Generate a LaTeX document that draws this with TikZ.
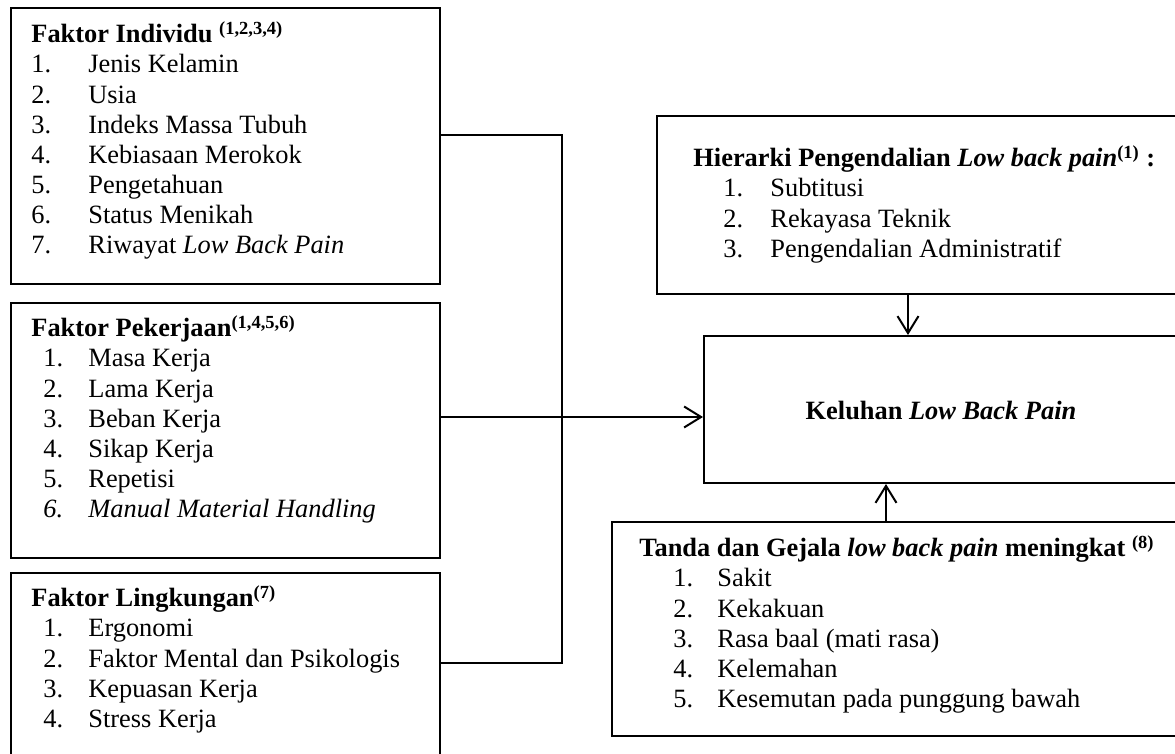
\documentclass[tikz,border=0pt]{standalone}
\usepackage{fontspec}
\setmainfont{Liberation Serif}
\usetikzlibrary{arrows.meta}
\tikzset{
  box/.style={draw, line width=1pt, rectangle, inner sep=0pt, anchor=north west},
  txt/.style={anchor=base west, inner sep=0pt, font=\fontsize{13.2}{15}\selectfont},
  conn/.style={line width=1pt},
  arr/.style={line width=1pt, -{Straight Barb[length=8.5pt,width=10.5pt,line width=1pt]}}
}
\newcommand{\refsup}[1]{\textsuperscript{\textbf{#1}}}
\begin{document}
\begin{tikzpicture}[x=0.5pt,y=-0.5pt]
\clip (0,0) rectangle (1175,754);
% boxes
\node[box, minimum width=214.5pt, minimum height=138pt] (b1) at (9.5,7) {};
\node[box, minimum width=214.5pt, minimum height=127.5pt] (b2) at (9.5,302) {};
\node[box, minimum width=214.5pt, minimum height=100pt] (b3) at (9.5,572) {};
\node[box, minimum width=261pt, minimum height=89pt] (hier) at (656,115) {};
\node[box, minimum width=237.5pt, minimum height=73.5pt] (kel) at (703,335) {};
\node[box, minimum width=283.5pt, minimum height=107pt] (tanda) at (611,521) {};
% box 1 text
\node[txt] (t1) at (31,43) {\textbf{Faktor Individu} \refsup{(1,2,3,4)}};
\foreach \n/\s [count=\i from 0] in {1/Jenis Kelamin,2/Usia,3/Indeks Massa Tubuh,4/Kebiasaan Merokok,5/Pengetahuan,6/Status Menikah}{
  \node[txt] (n1\n) at (31,73+30.2*\i) {\n.};
  \node[txt] (s1\n) at (88,73+30.2*\i) {\s};
}
\node[txt] (n17) at (31,254) {7.};
\node[txt] (s17) at (88,254) {Riwayat \textit{Low Back Pain}};
% box 2 text
\node[txt] (t2) at (31,337) {\textbf{Faktor Pekerjaan}\refsup{(1,4,5,6)}};
\foreach \n/\s [count=\i from 0] in {1/Masa Kerja,2/Lama Kerja,3/Beban Kerja,4/Sikap Kerja,5/Repetisi}{
  \node[txt] (n2\n) at (43,367+30.2*\i) {\n.};
  \node[txt] (s2\n) at (88,367+30.2*\i) {\s};
}
\node[txt] (n26) at (43,518) {\textit{6.}};
\node[txt] (s26) at (88,518) {\textit{Manual Material Handling}};
% box 3 text
\node[txt] (t3) at (31,607) {\textbf{Faktor Lingkungan}\refsup{(7)}};
\foreach \n/\s [count=\i from 0] in {1/Ergonomi,2/Faktor Mental dan Psikologis,3/Kepuasan Kerja,4/Stress Kerja}{
  \node[txt] (n3\n) at (43,637+30.2*\i) {\n.};
  \node[txt] (s3\n) at (88,637+30.2*\i) {\s};
}
% hierarki text
\node[txt] (th) at (693,167) {\textbf{Hierarki Pengendalian \textit{Low back pain}}\refsup{(1)} \textbf{:}};
\foreach \n/\s [count=\i from 0] in {1/Subtitusi,2/Rekayasa Teknik,3/Pengendalian Administratif}{
  \node[txt] (nh\n) at (723,197+30.2*\i) {\n.};
  \node[txt] (sh\n) at (770,197+30.2*\i) {\s};
}
% keluhan text
\node[txt, anchor=base] (tk) at (941,420) {\textbf{Keluhan \textit{Low Back Pain}}};
% tanda text
\node[txt] (tt) at (639,557) {\textbf{Tanda dan Gejala \textit{low back pain} meningkat} \refsup{(8)}};
\foreach \n/\s [count=\i from 0] in {1/Sakit,2/Kekakuan,3/Rasa baal (mati rasa),4/Kelemahan,5/Kesemutan pada punggung bawah}{
  \node[txt] (nt\n) at (673,587+30.2*\i) {\n.};
  \node[txt] (st\n) at (717,587+30.2*\i) {\s};
}
% connectors
\coordinate (j1) at (562,135);
\coordinate (j2) at (562,417);
\coordinate (j3) at (562,663);
\draw[conn] (b1.east |- j1) -- (j1) -- (j3) -- (b3.east |- j3);
\draw[arr] (b2.east |- j2) -- (kel.west |- j2);
\coordinate (a1) at (908,0);
\coordinate (a2) at (886,0);
\draw[arr] (hier.south -| a1) -- (kel.north -| a1);
\draw[arr] (tanda.north -| a2) -- (kel.south -| a2);
\end{tikzpicture}
\end{document}
